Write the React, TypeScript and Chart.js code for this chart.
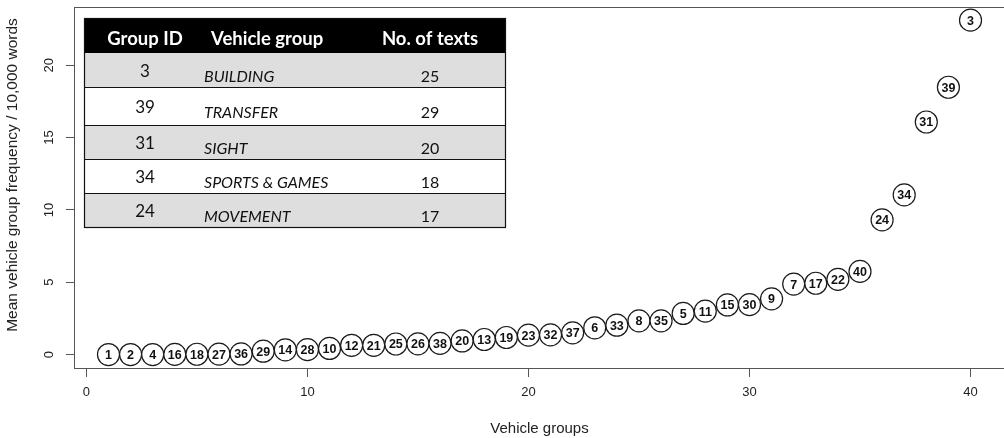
import React, { useEffect, useRef } from 'react';
import { Chart, registerables } from 'chart.js';

Chart.register(...registerables);

// Vehicle groups ranked by mean frequency (ascending); x position = rank
const groupIds = [
  1, 2, 4, 16, 18, 27, 36, 29, 14, 28, 10, 12, 21, 25, 26, 38, 20, 13, 19, 23,
  32, 37, 6, 33, 8, 35, 5, 11, 15, 30, 9, 7, 17, 22, 40, 24, 34, 31, 39, 3,
];
const meanFrequency = [
  0, 0, 0, 0.01, 0.02, 0.03, 0.04, 0.23, 0.33, 0.34, 0.42, 0.64, 0.64, 0.73, 0.74, 0.77, 0.94, 1.04, 1.18, 1.34,
  1.36, 1.5, 1.85, 2.03, 2.33, 2.33, 2.84, 3.0, 3.43, 3.45, 3.85, 4.87, 4.93, 5.2, 5.75, 9.31, 11.04, 16.08, 18.48, 23.12,
];

const xTickValues = [0, 10, 20, 30, 40];
const yTickValues = [0, 5, 10, 15, 20];

// Inset table: top five groups
const tableHeader = ['Group ID', 'Vehicle group', 'No. of texts'];
const topGroupIds = ['3', '39', '31', '34', '24'];
const topGroupNames = ['BUILDING', 'TRANSFER', 'SIGHT', 'SPORTS & GAMES', 'MOVEMENT'];
const topGroupTexts = ['25', '29', '20', '18', '17'];

const xTitle = 'Vehicle groups';
const yTitle = 'Mean vehicle group frequency / 10,000 words';

const AXIS_FONT = '"Liberation Sans", Arial, Helvetica, sans-serif';
const TABLE_FONT = 'Lato, "Open Sans", sans-serif';

// table geometry (pixels)
const TBL_LEFT = 84;
const TBL_RIGHT = 505;
const TBL_TOP = 18;
const TBL_LINES = [53, 87, 125, 159, 193, 227];
const COL_ID_CX = 145;
const COL_NAME_X = 204;
const COL_COUNT_CX = 430;

const rPlotPlugin = {
  id: 'rPlotDecor',
  afterDatasetsDraw(chart: any) {
    const ctx = chart.ctx as CanvasRenderingContext2D;
    const meta = chart.getDatasetMeta(0);
    ctx.save();
    ctx.font = `bold 12.5px ${AXIS_FONT}`;
    ctx.fillStyle = '#111';
    ctx.textAlign = 'center';
    ctx.textBaseline = 'alphabetic';
    meta.data.forEach((pt: any, i: number) => {
      ctx.fillText(String(groupIds[i]), pt.x, pt.y + 4.5);
    });
    ctx.restore();
  },
  afterDraw(chart: any) {
    const ctx = chart.ctx as CanvasRenderingContext2D;
    const a = chart.chartArea;
    const yScale = chart.scales.y;
    ctx.save();

    // plot frame
    ctx.strokeStyle = '#555';
    ctx.lineWidth = 1;
    ctx.strokeRect(
      Math.round(a.left) + 0.5,
      Math.round(a.top) + 0.5,
      Math.round(a.right - a.left),
      Math.round(a.bottom - a.top)
    );

    // y tick labels, parallel to the axis
    ctx.fillStyle = '#222';
    ctx.font = `13px ${AXIS_FONT}`;
    ctx.textAlign = 'center';
    ctx.textBaseline = 'middle';
    yTickValues.forEach((v) => {
      const py = yScale.getPixelForValue(v);
      ctx.save();
      ctx.translate(49, py);
      ctx.rotate(-Math.PI / 2);
      ctx.fillText(String(v), 0, 0);
      ctx.restore();
    });

    // y axis title
    ctx.save();
    ctx.font = `15.5px ${AXIS_FONT}`;
    ctx.translate(13, 175);
    ctx.rotate(-Math.PI / 2);
    ctx.fillText(yTitle, 0, 0);
    ctx.restore();

    // inset table
    const bottom = TBL_LINES[TBL_LINES.length - 1];
    ctx.fillStyle = '#000';
    ctx.fillRect(TBL_LEFT, TBL_TOP, TBL_RIGHT - TBL_LEFT, TBL_LINES[0] - TBL_TOP);
    for (let r = 0; r < topGroupIds.length; r++) {
      const t = TBL_LINES[r];
      const b = TBL_LINES[r + 1];
      ctx.fillStyle = r % 2 === 0 ? '#dedede' : '#ffffff';
      ctx.fillRect(TBL_LEFT, t, TBL_RIGHT - TBL_LEFT, b - t);
    }
    ctx.strokeStyle = '#111';
    ctx.lineWidth = 1;
    for (let r = 1; r < TBL_LINES.length - 1; r++) {
      ctx.beginPath();
      ctx.moveTo(TBL_LEFT, TBL_LINES[r] + 0.5);
      ctx.lineTo(TBL_RIGHT, TBL_LINES[r] + 0.5);
      ctx.stroke();
    }
    ctx.lineWidth = 1.2;
    ctx.strokeRect(TBL_LEFT + 0.5, TBL_TOP + 0.5, TBL_RIGHT - TBL_LEFT, bottom - TBL_TOP);

    // header
    ctx.fillStyle = '#fff';
    ctx.font = `bold 18.5px ${TABLE_FONT}`;
    ctx.textBaseline = 'alphabetic';
    ctx.textAlign = 'center';
    ctx.fillText(tableHeader[0], COL_ID_CX, 45);
    ctx.textAlign = 'left';
    ctx.fillText(tableHeader[1], 211, 45);
    ctx.textAlign = 'center';
    ctx.fillText(tableHeader[2], COL_COUNT_CX, 45);

    // rows
    ctx.fillStyle = '#111';
    for (let r = 0; r < topGroupIds.length; r++) {
      const mid = (TBL_LINES[r] + TBL_LINES[r + 1]) / 2;
      ctx.font = `17px ${TABLE_FONT}`;
      ctx.textAlign = 'center';
      ctx.fillText(topGroupIds[r], COL_ID_CX, mid + 7);
      ctx.font = `italic 16px ${TABLE_FONT}`;
      ctx.textAlign = 'left';
      ctx.fillText(topGroupNames[r], COL_NAME_X, mid + 12);
      ctx.font = `16px ${TABLE_FONT}`;
      ctx.textAlign = 'center';
      ctx.fillText(topGroupTexts[r], COL_COUNT_CX, mid + 12);
    }

    ctx.restore();
  },
};

export default function App() {
  const canvasRef = useRef<HTMLCanvasElement | null>(null);

  useEffect(() => {
    if (!canvasRef.current) return;
    const chart = new Chart(canvasRef.current, {
      type: 'scatter',
      data: {
        datasets: [
          {
            label: 'Mean frequency',
            data: meanFrequency.map((v, i) => ({ x: i + 1, y: v })),
            pointRadius: 11,
            pointHoverRadius: 11,
            pointBackgroundColor: '#ffffff',
            pointBorderColor: '#1a1a1a',
            pointBorderWidth: 1.2,
          },
        ],
      },
      options: {
        animation: false,
        responsive: false,
        devicePixelRatio: 1,
        layout: { autoPadding: false, padding: { top: 7, left: 0, right: 5, bottom: 0 } },
        plugins: {
          legend: { display: false },
          tooltip: { enabled: false },
        },
        scales: {
          x: {
            type: 'linear',
            min: -0.56,
            max: 41.56,
            afterBuildTicks: (scale: any) => {
              scale.ticks = xTickValues.map((v) => ({ value: v }));
            },
            afterFit: (scale: any) => {
              scale.height = 70;
            },
            grid: {
              display: true,
              drawOnChartArea: false,
              drawTicks: true,
              tickLength: 9,
              color: '#555',
            },
            border: { display: false },
            ticks: {
              color: '#222',
              font: { family: AXIS_FONT, size: 13 },
              padding: 8,
              maxRotation: 0,
              autoSkip: false,
            },
            title: {
              display: true,
              text: xTitle,
              color: '#222',
              font: { family: AXIS_FONT, size: 15 },
              padding: 0,
            },
          },
          y: {
            type: 'linear',
            min: -0.93,
            max: 24.03,
            afterBuildTicks: (scale: any) => {
              scale.ticks = yTickValues.map((v) => ({ value: v }));
            },
            afterFit: (scale: any) => {
              scale.width = 74;
            },
            grid: {
              display: true,
              drawOnChartArea: false,
              drawTicks: true,
              tickLength: 8,
              color: '#555',
            },
            border: { display: false },
            ticks: { display: false },
          },
        },
      },
      plugins: [rPlotPlugin],
    });
    return () => chart.destroy();
  }, []);

  return (
    <div
      style={{
        position: 'fixed',
        left: 0,
        top: 0,
        width: 1004,
        height: 438,
        overflow: 'hidden',
        background: '#fff',
      }}
    >
      <canvas ref={canvasRef} width={1010} height={438} style={{ display: 'block' }} />
    </div>
  );
}
